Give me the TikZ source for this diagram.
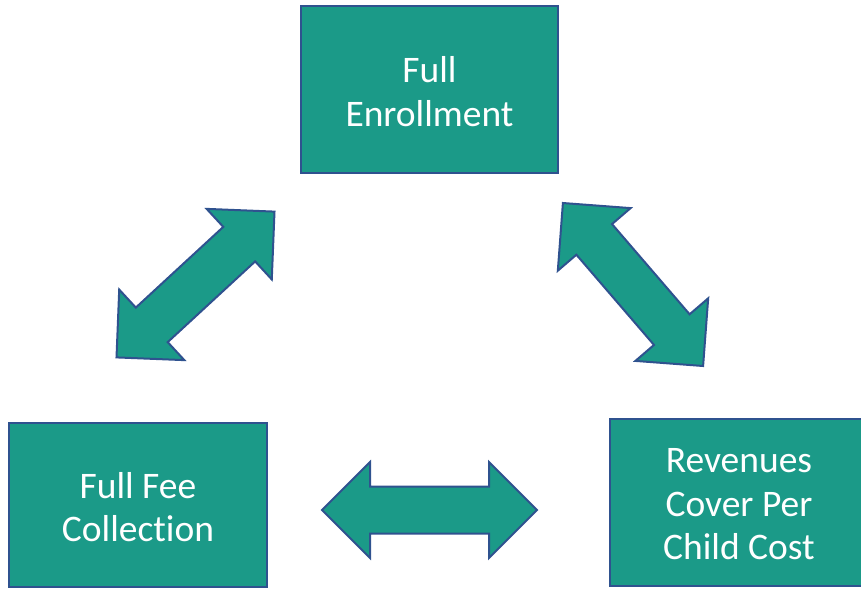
\documentclass[tikz,border=0pt]{standalone}
\usepackage{fontspec}
\setmainfont{Carlito}[Ligatures={NoCommon}]
\definecolor{tealfill}{HTML}{1B9A88}
\definecolor{edgeblue}{HTML}{2F528F}
\tikzset{
  box/.style={draw=edgeblue, line width=2pt, fill=tealfill, rectangle, inner sep=0pt},
  boxtext/.style={text=white, align=center, inner sep=0pt, font=\fontsize{37.5}{43.5}\selectfont},
  arrowshape/.style={draw=edgeblue, line width=2pt, fill=tealfill, line join=miter},
  dblarrow/.pic={
    \path[arrowshape] (-107.5,0) -- (-59.5,48) -- (-59.5,23.5) -- (59.5,23.5) -- (59.5,48)
      -- (107.5,0) -- (59.5,-48) -- (59.5,-23.5) -- (-59.5,-23.5) -- (-59.5,-48) -- cycle;
  }
}
\begin{document}
\begin{tikzpicture}[x=1pt,y=1pt]
\useasboundingbox (0,0) rectangle (861,-590);
\node[box, minimum width=257pt, minimum height=167pt] (enroll) at (429.5,-89.5) {};
\node[boxtext] (enrolltext) at ([yshift=-2pt]enroll.center) {Full\\Enrollment};
\node[box, minimum width=258pt, minimum height=164pt] (fee) at (138,-505) {};
\node[boxtext] (feetext) at ([yshift=-2pt]fee.center) {Full Fee\\Collection};
\node[box, minimum width=258pt, minimum height=167pt] (rev) at (739,-502.5) {};
\node[boxtext] (revtext) at ([yshift=-2pt]rev.center) {Revenues\\Cover Per\\Child Cost};
\pic (arrowleft) at (195.5,-284.5) [rotate=42.7] {dblarrow};
\pic (arrowright) at (633,-284.5) [rotate=-49.3] {dblarrow};
\pic (arrowbottom) at (429.5,-510) {dblarrow};
\end{tikzpicture}
\end{document}
